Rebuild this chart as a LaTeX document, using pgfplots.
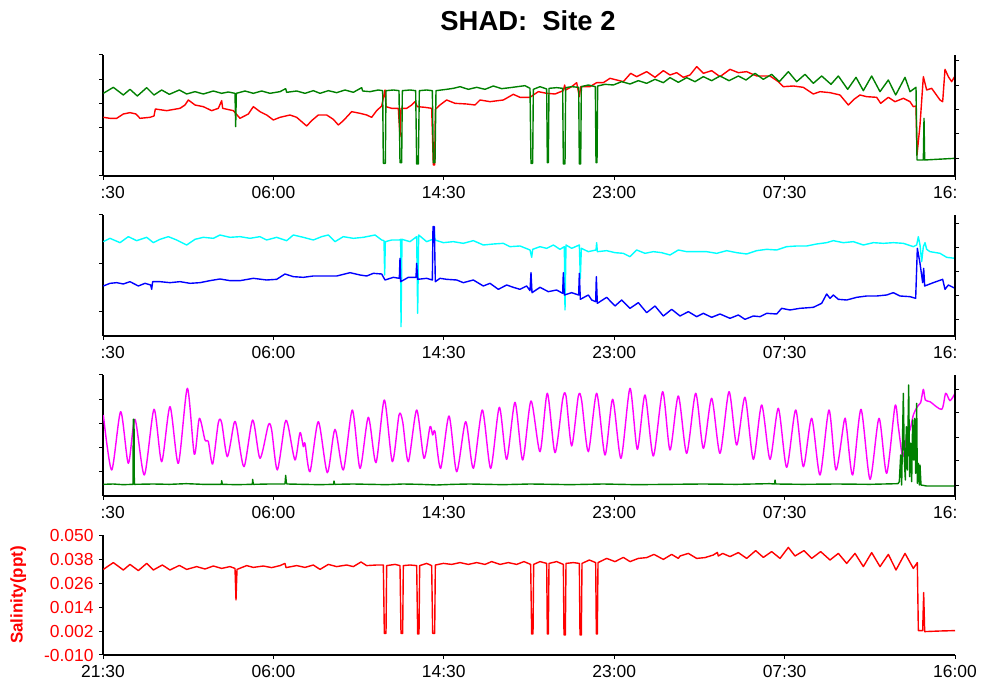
\documentclass[border=0pt]{standalone}
\usepackage{fontspec}
\setmainfont{Liberation Sans}
\usepackage{pgfplots}
\pgfplotsset{compat=1.18}

\definecolor{lgreen}{RGB}{0,128,0}
\definecolor{lred}{RGB}{255,0,0}
\definecolor{lblue}{RGB}{0,0,255}
\definecolor{lcyan}{RGB}{0,255,255}
\definecolor{lmag}{RGB}{255,0,255}

% time axis: minutes after 21:30 (approx), one tick every 8.5 h
\pgfplotsset{
  panel/.style={
    scale only axis, width=852bp, height=121bp, anchor=south west,
    xmin=0, xmax=2556, ymin=0, ymax=363,
    axis x line*=bottom, axis y line*=left,
    axis line style={-, line width=1.2bp},
    tick align=outside, tick style={black, line width=1bp},
    major tick length=4bp,
    xtick={0,511.2,1022.4,1533.6,2044.8,2556},
    xticklabels={\phantom{21}:30,06:00,14:30,23:00,07:30,16:\phantom{00}},
    tick label style={font=\fontsize{17.5}{19}\selectfont},
    xticklabel style={yshift=-3bp},
    yticklabels={},
    scaled y ticks=false,
    every axis plot/.append style={line width=1.4bp, line join=round},
  },
  rightax/.style={
    scale only axis, width=852bp, height=121bp, anchor=south west,
    xmin=0, xmax=2556, ymin=0, ymax=363,
    axis x line=none, axis y line*=right,
    axis line style={-, line width=1.2bp},
    tick align=outside, tick style={black, line width=1bp},
    major tick length=4bp,
    yticklabels={},
  },
}

\begin{document}
\begin{tikzpicture}
\useasboundingbox (0bp,0bp) rectangle (982bp,686bp);

\node[anchor=base, font=\bfseries\fontsize{27.5}{30}\selectfont] at (528bp,655.3bp) {SHAD:\ \ Site 2};

% ---------- panel 1 ----------
\begin{axis}[panel, at={(103bp,510bp)}, ytick={0,72,145,218,290,363}]
\addplot[lred] coordinates {
(1,176)(21,173)(41,173)(61,186)(81,190)(99,186)(111,173)(141,176)(153,180)(157,201)(191,196)(231,203)(246,213)(256,228)(276,213)(301,208)(326,196)(346,203)(356,226)(359,203)(391,196)(411,173)(436,186)(451,208)(471,193)(491,183)(511,168)(531,176)(561,183)(581,176)(596,163)(611,150)(626,166)(646,183)(671,183)(691,170)(706,153)(721,166)(746,193)(771,188)(791,183)(806,176)(821,196)(836,210)(846,258)(849,208)(866,203)(886,203)(891,118)(894,203)(911,203)(926,213)(936,223)(943,208)(966,206)(986,203)(991,33)(995,33)(997,200)(1011,213)(1031,228)(1056,218)(1091,216)(1116,213)(1131,228)(1161,223)(1201,228)(1231,245)(1251,236)(1281,236)(1291,243)(1306,253)(1331,248)(1356,246)(1381,256)(1385,273)(1388,258)(1406,268)(1421,280)(1429,238)(1433,268)(1461,268)(1481,280)(1501,280)(1521,293)(1541,288)(1561,283)(1583,308)(1601,298)(1631,313)(1656,296)(1681,316)(1701,303)(1721,310)(1741,296)(1761,303)(1781,328)(1801,308)(1826,316)(1851,298)(1881,320)(1906,310)(1931,313)(1961,300)(2001,300)(2026,283)(2041,268)(2071,270)(2101,266)(2131,246)(2151,253)(2181,250)(2211,243)(2236,213)(2253,230)(2271,243)(2291,238)(2321,236)(2333,218)(2356,236)(2376,223)(2401,233)(2421,223)(2431,208)(2439,210)(2442,63)(2451,153)(2461,298)(2471,258)(2486,263)(2511,228)(2519,223)(2526,320)(2536,298)(2546,283)(2556,300)
};
\addplot[lgreen] coordinates {
(1,248)(31,266)(61,243)(81,260)(103,240)(131,265)(153,243)(176,258)(199,245)(229,258)(251,246)(276,253)(301,246)(331,255)(356,248)(376,252)(396,248)(398,148)(400,248)(426,255)(451,248)(476,255)(501,248)(531,253)(548,262)(551,251)(581,255)(606,248)(631,256)(651,248)(676,256)(701,250)(726,258)(751,251)(776,265)(779,255)(801,253)(826,258)(839,256)(841,38)(847,38)(849,256)(871,258)(888,256)(891,40)(896,40)(898,256)(921,258)(938,256)(941,36)(946,36)(949,256)(971,258)(988,256)(991,40)(996,40)(999,256)(1031,260)(1051,263)(1071,268)(1096,260)(1121,266)(1146,260)(1171,270)(1196,262)(1221,265)(1266,271)(1281,263)(1284,38)(1289,38)(1291,260)(1311,268)(1331,261)(1333,40)(1336,40)(1338,263)(1361,265)(1379,263)(1381,36)(1386,36)(1388,265)(1406,268)(1427,266)(1429,36)(1433,36)(1435,268)(1456,273)(1477,268)(1479,40)(1482,40)(1484,270)(1506,275)(1531,273)(1556,283)(1581,276)(1606,286)(1631,278)(1656,290)(1681,280)(1701,295)(1726,281)(1751,295)(1776,283)(1801,298)(1826,286)(1851,300)(1878,286)(1906,300)(1929,288)(1956,308)(1981,290)(2006,305)(2029,283)(2056,313)(2081,283)(2106,305)(2131,278)(2156,300)(2184,275)(2206,300)(2234,260)(2259,296)(2281,256)(2306,300)(2331,253)(2356,288)(2378,243)(2406,296)(2421,253)(2439,266)(2442,48)(2461,48)(2463,173)(2465,48)(2501,50)(2556,53)
};
\end{axis}
\begin{axis}[rightax, at={(103bp,510bp)}, ytick={53,126,198,271,346}]
\end{axis}

% ---------- panel 2 ----------
\begin{axis}[panel, at={(103bp,350bp)}, ytick={72,218,363}]
\addplot[lcyan] coordinates {
(1,283)(21,293)(51,280)(76,298)(101,286)(131,296)(151,280)(171,290)(196,298)(221,288)(251,273)(276,290)(301,296)(331,293)(351,303)(381,296)(411,298)(441,293)(471,298)(491,288)(521,296)(551,286)(571,303)(601,296)(631,288)(656,298)(676,303)(696,283)(721,298)(751,293)(781,296)(816,303)(836,288)(843,286)(845,183)(847,283)(866,288)(889,288)(893,290)(894,28)(897,290)(921,283)(941,298)(944,68)(947,303)(971,283)(989,290)(993,323)(996,288)(1021,280)(1051,283)(1081,278)(1111,286)(1141,273)(1171,276)(1201,278)(1221,268)(1251,270)(1281,258)(1286,236)(1289,260)(1311,268)(1331,263)(1351,273)(1371,260)(1384,268)(1386,78)(1389,273)(1406,263)(1429,273)(1432,173)(1435,263)(1456,253)(1479,258)(1481,280)(1483,253)(1511,256)(1536,250)(1561,248)(1581,238)(1601,258)(1626,248)(1651,253)(1676,250)(1701,243)(1726,258)(1751,253)(1781,253)(1811,253)(1841,248)(1871,256)(1901,250)(1931,246)(1961,256)(1991,260)(2021,258)(2051,268)(2081,270)(2111,270)(2141,276)(2171,280)(2191,286)(2221,280)(2251,283)(2281,273)(2311,280)(2341,278)(2371,280)(2401,278)(2431,268)(2441,273)(2446,298)(2451,273)(2456,223)(2461,268)(2466,280)(2471,260)(2481,253)(2511,248)(2531,236)(2556,233)
};
\addplot[lblue] coordinates {
(1,150)(21,158)(41,160)(61,156)(81,163)(106,150)(126,158)(143,153)(146,140)(149,163)(171,163)(201,160)(231,163)(261,158)(291,160)(321,166)(351,171)(381,166)(411,166)(451,173)(491,168)(521,170)(546,186)(571,178)(601,176)(631,180)(671,180)(701,180)(741,190)(771,183)(791,180)(811,188)(836,186)(846,168)(871,176)(889,173)(891,233)(893,163)(916,176)(939,176)(941,218)(944,170)(971,173)(988,168)(990,328)(994,328)(997,163)(1011,173)(1031,170)(1061,168)(1081,160)(1111,168)(1141,150)(1161,158)(1186,140)(1211,153)(1231,146)(1251,140)(1271,150)(1281,136)(1284,190)(1287,130)(1311,146)(1336,133)(1361,138)(1379,128)(1381,190)(1384,123)(1406,130)(1427,123)(1429,188)(1432,110)(1456,123)(1466,108)(1478,103)(1480,178)(1483,98)(1511,116)(1536,90)(1556,108)(1581,83)(1606,100)(1631,70)(1656,90)(1681,60)(1706,80)(1731,60)(1756,73)(1781,58)(1801,68)(1826,56)(1851,66)(1881,53)(1906,63)(1926,50)(1951,60)(1971,58)(1991,68)(2021,66)(2036,83)(2061,78)(2091,83)(2131,86)(2156,98)(2171,126)(2181,113)(2191,123)(2206,110)(2231,108)(2261,116)(2291,120)(2321,120)(2351,123)(2371,130)(2391,120)(2421,118)(2438,113)(2443,263)(2451,218)(2459,160)(2462,203)(2465,150)(2491,160)(2519,170)(2526,140)(2536,153)(2556,143)
};
\end{axis}
\begin{axis}[rightax, at={(103bp,350bp)}, ytick={48,121,193,265,338}]
\end{axis}

% ---------- panel 3 ----------
\begin{axis}[panel, at={(103bp,190bp)}, ytick={72,145,218,290,363}]
\addplot[lmag, smooth, tension=0.45] coordinates {
(1,243)(26,78)(53,253)(76,98)(96,230)(124,63)(153,260)(176,103)(201,268)(226,98)(253,323)(274,125)(289,233)(306,168)(316,163)(329,96)(346,220)(356,220)(373,118)(393,218)(401,208)(423,88)(449,228)(471,113)(496,213)(506,198)(523,78)(546,220)(556,208)(576,108)(591,190)(601,148)(606,158)(621,73)(646,223)(673,70)(696,200)(721,78)(748,258)(771,83)(796,236)(819,100)(844,288)(868,103)(888,243)(899,223)(916,103)(941,258)(963,113)(981,208)(989,183)(996,193)(1013,83)(1038,240)(1061,73)(1088,223)(1111,83)(1138,258)(1163,83)(1189,266)(1211,110)(1236,281)(1259,108)(1284,285)(1311,133)(1333,308)(1356,130)(1379,290)(1389,300)(1406,150)(1426,300)(1436,286)(1456,133)(1481,308)(1506,123)(1529,290)(1554,113)(1581,323)(1603,140)(1626,303)(1651,120)(1679,313)(1701,138)(1726,300)(1751,128)(1778,308)(1801,143)(1826,293)(1851,128)(1878,313)(1901,153)(1926,296)(1951,110)(1976,273)(2001,110)(2026,263)(2051,86)(2078,258)(2101,88)(2126,233)(2151,63)(2178,258)(2199,78)(2224,228)(2231,203)(2249,63)(2274,260)(2301,50)(2328,233)(2351,68)(2376,270)(2386,208)(2399,118)(2411,178)(2421,198)(2431,243)(2443,268)(2453,280)(2461,320)(2467,288)(2481,283)(2516,260)(2528,308)(2541,286)(2556,308)
};
\addplot[lgreen] coordinates {
(1,35)(30,36)(60,34)(90,35)(91,230)(93,230)(94,35)(150,36)(200,35)(250,37)(300,35)(355,35)(356,46)(358,35)(400,34)(448,35)(449,50)(451,35)(500,36)(546,36)(548,62)(550,40)(552,36)(600,35)(650,34)(692,35)(693,45)(695,35)(750,36)(800,35)(850,34)(900,36)(950,35)(1000,33)(1050,35)(1100,36)(1150,35)(1200,34)(1281,36)(1350,35)(1400,34)(1500,36)(1600,34)(1700,35)(1800,36)(1900,35)(2000,37)(2015,36)(2016,48)(2018,36)(2100,35)(2200,36)(2300,35)(2385,37)(2389,43)(2393,123)(2396,33)(2401,308)(2404,108)(2407,48)(2410,208)(2413,78)(2417,333)(2420,58)(2423,158)(2426,43)(2429,228)(2432,108)(2435,233)(2438,68)(2441,278)(2443,38)(2446,98)(2449,33)(2451,93)(2454,33)(2471,30)(2556,30)
};
\end{axis}
\begin{axis}[rightax, at={(103bp,190bp)}, ytick={31,105,176,250,320}]
\end{axis}

% ---------- panel 4: salinity ----------
\begin{axis}[panel, at={(103bp,31bp)}, height=120bp,
  ymin=-0.010, ymax=0.050,
  xticklabels={21:30,06:00,14:30,23:00,07:30,16:00},
  ytick={-0.010,0.002,0.014,0.026,0.038,0.050},
  yticklabels={-0.010,0.002,0.014,0.026,0.038,0.050},
  yticklabel style={text=lred, xshift=-2bp},
  ylabel={Salinity(ppt)},
  ylabel style={font=\bfseries\fontsize{17}{19}\selectfont, text=lred,
    at={(axis description cs:-0.0995,0.5)}, anchor=center},
]
\addplot[lred] coordinates {
(1,0.0328)(31,0.0362)(61,0.0325)(81,0.0353)(106,0.0322)(131,0.0358)(151,0.0325)(178,0.0350)(201,0.0325)(229,0.0348)(251,0.0328)(281,0.0342)(306,0.0330)(331,0.0345)(356,0.0333)(381,0.0342)(396,0.0333)(399,0.0175)(402,0.0328)(431,0.0347)(451,0.0338)(481,0.0345)(506,0.0337)(531,0.0347)(546,0.0358)(549,0.0337)(581,0.0347)(606,0.0338)(631,0.0350)(651,0.0328)(676,0.0353)(701,0.0342)(731,0.0350)(751,0.0342)(774,0.0365)(791,0.0347)(821,0.0350)(841,0.0350)(844,0.0008)(849,0.0008)(851,0.0347)(876,0.0353)(891,0.0347)(894,0.0008)(899,0.0008)(901,0.0347)(921,0.0350)(941,0.0347)(944,0.0005)(948,0.0005)(950,0.0347)(971,0.0358)(986,0.0347)(989,0.0008)(995,0.0008)(997,0.0350)(1021,0.0358)(1046,0.0353)(1071,0.0362)(1096,0.0353)(1121,0.0362)(1146,0.0353)(1166,0.0367)(1191,0.0353)(1216,0.0362)(1241,0.0353)(1263,0.0367)(1283,0.0353)(1286,0.0005)(1290,0.0005)(1292,0.0353)(1311,0.0367)(1331,0.0358)(1333,0.0005)(1336,0.0005)(1338,0.0358)(1361,0.0367)(1381,0.0353)(1383,0.0000)(1387,0.0000)(1389,0.0358)(1411,0.0362)(1429,0.0358)(1431,0.0000)(1435,0.0000)(1437,0.0358)(1459,0.0375)(1478,0.0362)(1480,0.0005)(1483,0.0005)(1485,0.0362)(1511,0.0383)(1536,0.0367)(1561,0.0388)(1581,0.0367)(1606,0.0383)(1631,0.0387)(1653,0.0403)(1681,0.0378)(1706,0.0403)(1726,0.0383)(1731,0.0395)(1756,0.0408)(1781,0.0383)(1806,0.0387)(1831,0.0400)(1843,0.0413)(1846,0.0395)(1859,0.0408)(1881,0.0392)(1906,0.0412)(1931,0.0383)(1958,0.0422)(1981,0.0388)(2006,0.0417)(2031,0.0383)(2056,0.0438)(2076,0.0395)(2103,0.0422)(2126,0.0383)(2153,0.0417)(2181,0.0375)(2206,0.0408)(2231,0.0358)(2256,0.0408)(2281,0.0342)(2306,0.0412)(2331,0.0342)(2356,0.0403)(2379,0.0325)(2406,0.0408)(2431,0.0333)(2443,0.0362)(2446,0.0022)(2459,0.0022)(2462,0.0212)(2465,0.0017)(2511,0.0020)(2556,0.0022)
};
\end{axis}
\end{tikzpicture}
\end{document}
